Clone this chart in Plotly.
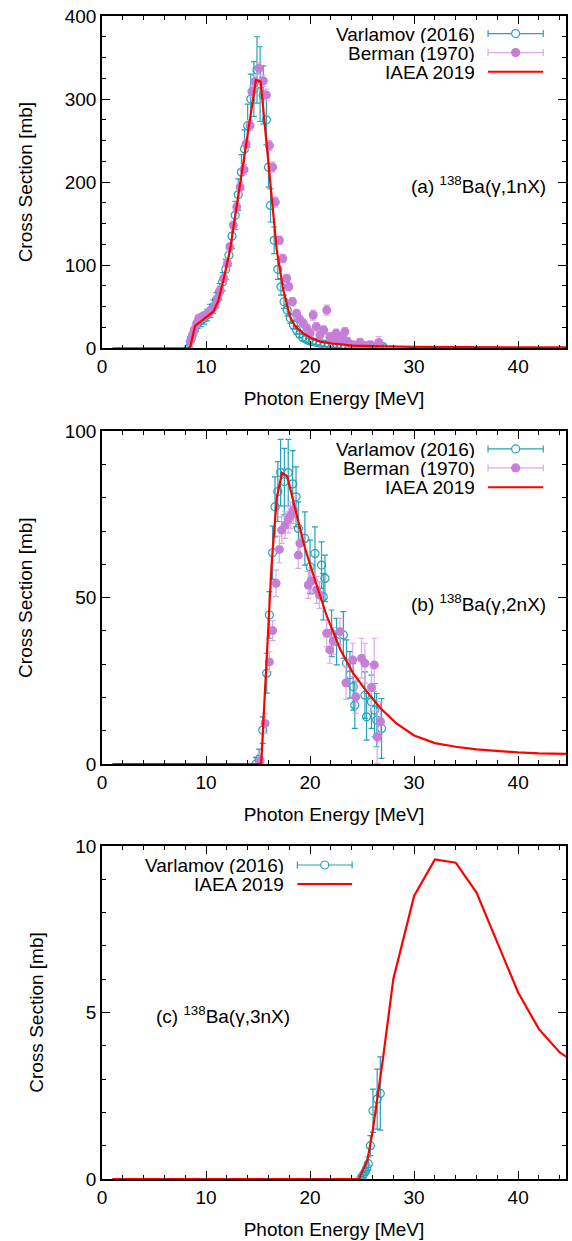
import plotly.graph_objects as go

# ---------------- data ----------------
# Panel (a) 138Ba(g,1nX)
va_E = [8.3, 8.6, 8.9, 9.2, 9.5, 9.8, 10.1, 10.4, 10.7, 11.0, 11.3, 11.6, 11.9, 12.2, 12.5, 12.8,
        13.1, 13.4, 13.7, 14.0, 14.3, 14.6, 14.9, 15.2, 15.5, 15.8, 16.0, 16.2, 16.55, 16.9, 17.2,
        17.5, 17.8, 18.1, 18.4, 18.7, 19.0, 19.3, 19.6, 19.9, 20.2, 20.6, 21.0, 21.4, 21.8, 22.2,
        22.6, 23.0, 23.4, 23.8, 24.2, 24.6, 25.0, 25.4, 25.8, 26.2, 26.6, 27.0]
va_S = [0, 12, 22, 30, 33, 36, 40, 45, 50, 58, 68, 80, 95, 112, 135, 160,
        185, 212, 240, 268, 300, 312, 335, 318, 305, 275, 218, 172, 130, 95, 74,
        56, 46, 36, 28, 22, 17, 13, 11, 9, 8, 7, 6, 5, 5, 4,
        4, 3, 3, 3, 2, 2, 3, 2, 3, 2, 3, 2]
va_err = [3, 5, 6, 6, 7, 7, 7, 8, 8, 9, 10, 11, 12, 13, 15, 17,
          19, 21, 23, 26, 30, 33, 40, 45, 35, 30, 24, 20, 16, 12, 10,
          8, 7, 6, 5, 5, 4, 4, 4, 3, 3, 3, 3, 3, 3, 3,
          3, 3, 3, 3, 3, 3, 3, 3, 3, 3, 3, 3]

ba_E = [8.47, 8.7, 8.86, 9.1, 9.3, 9.6, 9.9, 10.23, 10.5, 10.87, 11.1, 11.35, 11.7, 12.06, 12.3,
        12.63, 12.95, 13.27, 13.66, 13.85, 14.23, 14.4, 14.7, 15.1, 15.5, 15.8, 16.1, 16.4, 16.66,
        17.05, 17.37, 17.75, 17.95, 18.3, 18.7, 19.0, 19.35, 19.7, 20.0, 20.3, 20.6, 20.95, 21.3,
        21.6, 21.9, 22.2, 22.5, 22.8, 23.1, 23.35, 23.6, 23.8, 24.1, 24.4, 24.8, 25.1, 25.4, 25.8,
        26.2, 26.6]
ba_S = [8, 16, 22, 30, 36, 38, 40, 42, 46, 52, 60, 70, 84, 102, 122,
        148, 170, 194, 215, 246, 268, 309, 321, 337, 322, 305, 244, 218, 176,
        130, 108, 84, 74, 56, 42, 35, 30, 24, 18, 40, 26, 16, 22,
        46, 14, 12, 18, 10, 14, 20, 8, -2, 4, -3, 7, 0, 3, 4,
        2, 7]
ba_err = [4, 4, 4, 4, 4, 4, 4, 4, 4, 4, 4, 5, 5, 5, 5,
          5, 5, 6, 6, 6, 6, 7, 7, 7, 7, 7, 6, 6, 6,
          5, 5, 5, 5, 5, 5, 5, 5, 5, 5, 6, 5, 5, 5,
          6, 5, 5, 5, 5, 5, 5, 5, 5, 5, 5, 5, 5, 5, 5,
          5, 7]

ia_E = [1, 8.45, 8.95, 9.5, 10.0, 10.7, 11.2, 11.67, 12.3, 12.95, 13.6, 14.23, 14.8, 15.25, 15.8,
        16.3, 16.8, 17.43, 18.07, 18.6, 19.35, 20.0, 20.95, 22.0, 23.0, 24.1, 26.0, 28.0, 30.0,
        35.0, 40.0, 45.0]
ia_S = [0, 0, 27, 32, 37, 44, 58, 82, 118, 170, 222, 278, 323, 321, 250,
        182, 118, 70, 38, 26, 18, 13, 8, 6, 4.5, 3.3, 2.5, 2.0, 1.7,
        1.3, 1.1, 1.0]

# Panel (b) 138Ba(g,2nX)
vb_E = [14.8, 15.1, 15.45, 15.83, 16.09, 16.4, 16.63, 16.9, 17.17, 17.53, 17.9, 18.33, 18.65,
        18.87, 19.5, 20.0, 20.47, 21.1, 21.27, 21.43, 22.07, 22.55, 23.2, 23.5, 23.83, 24.15,
        24.3, 25.27, 25.43, 25.9, 26.2, 26.4, 26.87]
vb_S = [0, 1.5, 10.2, 27.3, 44.8, 63.5, 77.3, 81.9, 87.6, 84.9, 87.6, 84.2, 80.3,
        70.8, 67.8, 59.3, 63.3, 59.8, 50.3, 55.8, 39.3, 36.8, 38.8, 30.3, 26.8, 23.2,
        17.7, 20.7, 14.2, 18.7, 16.2, 13.2, 10.7]
vb_err = [2, 3, 4, 6, 7, 8, 9, 9, 10, 10, 10, 10, 9,
          8, 8, 8, 8, 7, 7, 7, 7, 7, 7, 7, 7, 7,
          7, 7, 7, 8, 8, 8, 9]

bb_E = [15.2, 15.67, 16.09, 16.4, 16.73, 17.05, 17.27, 17.6, 17.9, 18.13, 18.4, 18.87, 19.03,
        19.83, 20.1, 20.63, 20.9, 21.6, 21.9, 22.23, 22.87, 23.45, 24.1, 24.4, 24.95, 25.27,
        25.9, 26.17, 26.45, 26.77]
bb_S = [1, 12.2, 30.7, 40.1, 54.3, 64.5, 70.3, 71.8, 73.5, 74.8, 76.3, 62.8, 66.3,
        53.8, 55, 52.3, 50.8, 39.3, 34.3, 37, 39.8, 24.4, 31.3, 20.2, 31.8, 30.3,
        23, 29.8, 8.2, 12.7]
bb_err = [2, 3, 3, 3, 4, 4, 4, 4, 4, 4, 4, 4, 4,
          4, 4, 4, 4, 4, 4, 4, 4, 5, 5, 5, 6, 6,
          7, 8, 8, 6]

ib_E = [1, 15.3, 15.8, 16.3, 16.8, 17.3, 17.8, 18.5, 19.5, 20.5, 21.6, 22.9, 24.1, 25.4, 26.7,
        28.3, 30, 32, 34, 36, 38, 40, 42, 45]
ib_S = [0, 0, 30, 60, 80, 87.5, 86.5, 77.5, 65, 55, 44.5, 34.5, 27.5, 22, 17,
        12.2, 8.6, 6.3, 5.2, 4.4, 3.9, 3.5, 3.2, 3.0]

# Panel (c) 138Ba(g,3nX)
vc_E = [24.9, 25.1, 25.3, 25.45, 25.6, 25.8, 26.05, 26.45, 26.75]
vc_S = [0.03, 0.12, 0.22, 0.33, 0.46, 1.0, 2.05, 2.4, 2.57]
vc_err = [0.05, 0.08, 0.1, 0.15, 0.2, 0.3, 0.65, 0.9, 1.1]

ic_E = [1, 24.7, 25.5, 26, 27, 28, 30, 32, 34, 36, 38, 40, 42, 44, 46]
ic_S = [0, 0, 0.55, 1.4, 3.6, 6.0, 8.5, 9.6, 9.5, 8.6, 7.1, 5.6, 4.5, 3.8, 3.4]

# ---------------- style ----------------
C_V = "#22a3ba"
C_B = "#c67fd6"
C_BE = "#dca9e6"
C_I = "#ff0000"
FONT = "Liberation Sans, Arial, sans-serif"
FS = 19

fig = go.Figure()

panels = [
    dict(ax="", V=(va_E, va_S, va_err), B=(ba_E, ba_S, ba_err), I=(ia_E, ia_S)),
    dict(ax="2", V=(vb_E, vb_S, vb_err), B=(bb_E, bb_S, bb_err), I=(ib_E, ib_S)),
    dict(ax="3", V=(vc_E, vc_S, vc_err), B=None, I=(ic_E, ic_S)),
]

for p in panels:
    xa, ya = "x" + p["ax"], "y" + p["ax"]
    E, S, err = p["V"]
    fig.add_trace(go.Scatter(x=E, y=S, mode="markers", xaxis=xa, yaxis=ya, showlegend=False,
                             marker=dict(symbol="circle-open", size=8, color=C_V, line=dict(width=1.2)),
                             error_y=dict(type="data", array=err, color=C_V, thickness=1.2, width=3)))
    if p["B"] is not None:
        E, S, err = p["B"]
        fig.add_trace(go.Scatter(x=E, y=S, mode="markers", xaxis=xa, yaxis=ya, showlegend=False,
                                 marker=dict(symbol="circle", size=9, color=C_B),
                                 error_y=dict(type="data", array=err, color=C_BE, thickness=1.2, width=3)))
    E, S = p["I"]
    fig.add_trace(go.Scatter(x=E, y=S, mode="lines", xaxis=xa, yaxis=ya, showlegend=False,
                             line=dict(color=C_I, width=2.2)))

axis_common = dict(showline=True, linecolor="black", linewidth=1.5, mirror="allticks",
                   ticks="inside", ticklen=8, tickwidth=1, tickcolor="black",
                   showgrid=False, zeroline=False, automargin=False, ticklabeloverflow="allow",
                   tickfont=dict(family=FONT, size=FS, color="black"))

x_domains = [0, 1]
y_domains = [[0.7143, 1.0], [0.3568, 0.6429], [0.0, 0.2863]]
y_ranges = [[0, 400], [0, 100], [0, 10]]
y_dticks = [100, 50, 5]
y_minor = [25, 10, 1]

layout = dict(
    width=572, height=1241,
    margin=dict(l=102, r=6, t=16, b=62),
    plot_bgcolor="white", paper_bgcolor="white",
    font=dict(family=FONT, size=FS, color="black"),
    showlegend=False,
)
for i in range(3):
    sfx = "" if i == 0 else str(i + 1)
    layout["xaxis" + sfx] = dict(axis_common, domain=x_domains, range=[0, 44.6], dtick=10, tick0=0,
                                 anchor="y" + sfx,
                                 minor=dict(dtick=2, ticks="inside", ticklen=4, tickcolor="black"),
                                 title=dict(text="Photon Energy [MeV]", standoff=16,
                                            font=dict(family=FONT, size=FS)))
    layout["yaxis" + sfx] = dict(axis_common, domain=y_domains[i], range=y_ranges[i], dtick=y_dticks[i],
                                 tick0=0, anchor="x" + sfx,
                                 minor=dict(dtick=y_minor[i], ticks="inside", ticklen=4, tickcolor="black"),
                                 title=dict(text="Cross Section [mb]", standoff=27,
                                            font=dict(family=FONT, size=FS)))
fig.update_layout(**layout)

# ---------------- manual gnuplot-style legends & labels ----------------
ann = []
shapes = []


def legend_entry(sfx, yf, text, txt_x, l0, l1, color, mark=None, markcolor=None, ph=332.6):
    xr, yr = "x" + sfx + " domain", "y" + sfx + " domain"
    ann.append(dict(xref=xr, yref=yr, x=txt_x, y=yf, xanchor="right", yanchor="middle",
                    text=text, showarrow=False, height=18, borderpad=0,
                    font=dict(family=FONT, size=FS, color="black")))
    shapes.append(dict(type="line", xref=xr, yref=yr, x0=l0, x1=l1, y0=yf, y1=yf,
                       line=dict(color=color, width=2 if mark is None else 1.2)))
    if mark is not None:
        cap = 3.5 / ph
        for xx in (l0, l1):
            shapes.append(dict(type="line", xref=xr, yref=yr, x0=xx, x1=xx, y0=yf - cap, y1=yf + cap,
                               line=dict(color=color, width=1.2)))
        cx = (l0 + l1) / 2
        fill = markcolor if mark == "filled" else "white"
        lc = markcolor if mark == "filled" else C_V
        shapes.append(dict(type="circle", xref=xr, yref=yr, xsizemode="pixel", ysizemode="pixel",
                           xanchor=cx, yanchor=yf, x0=-4, x1=4, y0=-4, y1=4,
                           fillcolor=fill, line=dict(color=lc, width=1.2)))


# panel a
legend_entry("", 0.947, "Varlamov (2016)", 0.806, 0.832, 0.951, C_V, mark="open")
legend_entry("", 0.890, "Berman (1970)", 0.806, 0.832, 0.951, C_BE, mark="filled", markcolor=C_B)
legend_entry("", 0.832, "IAEA 2019", 0.806, 0.832, 0.951, C_I)
# panel b
legend_entry("2", 0.947, "Varlamov (2016)", 0.806, 0.832, 0.951, C_V, mark="open")
legend_entry("2", 0.890, "Berman\u00a0 (1970)", 0.806, 0.832, 0.951, C_BE, mark="filled", markcolor=C_B)
legend_entry("2", 0.832, "IAEA 2019", 0.806, 0.832, 0.951, C_I)
# panel c
legend_entry("3", 0.943, "Varlamov (2016)", 0.395, 0.421, 0.539, C_V, mark="open", ph=333.3)
legend_entry("3", 0.886, "IAEA 2019", 0.395, 0.421, 0.539, C_I, ph=333.3)

labels = [("", "(a) <sup>138</sup>Ba(γ,1nX)", 0.961, 0.491, "right"),
          ("2", "(b) <sup>138</sup>Ba(γ,2nX)", 0.961, 0.484, "right"),
          ("3", "(c) <sup>138</sup>Ba(γ,3nX)", 0.1126, 0.493, "left")]
for sfx, t, xf, yf, xa in labels:
    ann.append(dict(xref="x" + sfx + " domain", yref="y" + sfx + " domain", x=xf, y=yf,
                    xanchor=xa, yanchor="middle", text=t, showarrow=False,
                    font=dict(family=FONT, size=FS, color="black")))

fig.update_layout(annotations=ann, shapes=shapes)
# remove the browser's default 8 px body margin so the figure fills the window exactly
fig.write_html("out.html", config={"displayModeBar": False},
               post_script="document.body.style.margin='0px';")
